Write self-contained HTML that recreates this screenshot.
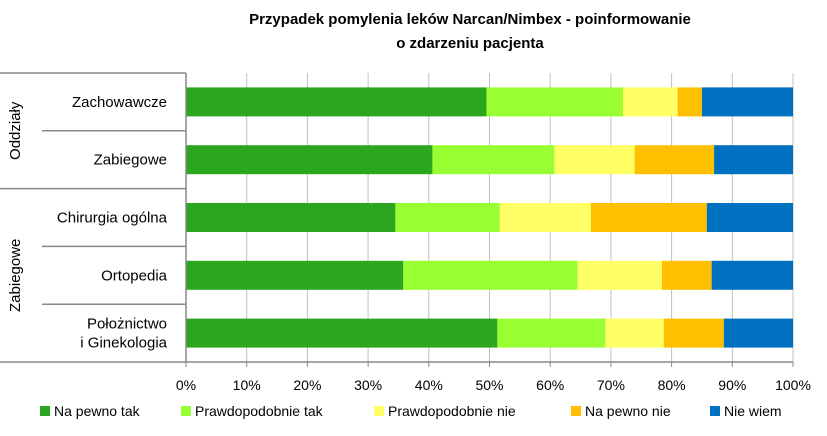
<!DOCTYPE html>
<html><head><meta charset="utf-8"><style>
body{margin:0;background:#fff;font-family:"Liberation Sans",sans-serif;}
svg text{font-family:"Liberation Sans",sans-serif;fill:#000;}
</style></head><body>
<svg width="827" height="431">
<text x="470" y="24" text-anchor="middle" font-size="15" font-weight="bold">Przypadek pomylenia leków  Narcan/Nimbex - poinformowanie</text>
<text x="470" y="48" text-anchor="middle" font-size="15" font-weight="bold">o zdarzeniu pacjenta</text>
<g id="grid"></g><g id="bars"></g><g id="axes"></g><g id="legend"></g>
</svg>
<script>
const categories=["Zachowawcze","Zabiegowe","Chirurgia ogólna","Ortopedia","Położnictwo|i Ginekologia"];
const naPewnoTak=[49.5,40.6,34.5,35.8,51.3];
const prawdTak=[22.5,20.1,17.2,28.7,17.8];
const prawdNie=[9.0,13.2,15.0,13.9,9.6];
const naPewnoNie=[4.0,13.1,19.1,8.2,9.9];
const nieWiem=[15.0,13.0,14.2,13.4,11.4];
const seriesNames=["Na pewno tak","Prawdopodobnie tak","Prawdopodobnie nie","Na pewno nie","Nie wiem"];
const tickLabels=["0%","10%","20%","30%","40%","50%","60%","70%","80%","90%","100%"];
const series=[naPewnoTak,prawdTak,prawdNie,naPewnoNie,nieWiem];
const colors=["#2ca61e","#99ff33","#ffff66","#ffc000","#0070c0"];
const NS="http://www.w3.org/2000/svg";
const x0=186,x1=793,yTop=73,yBottom=362;
const rowH=(yBottom-yTop)/categories.length;
const xs=v=>x0+(x1-x0)*v/100;
function mk(t,a,p){const e=document.createElementNS(NS,t);for(const k in a)e.setAttribute(k,a[k]);p.appendChild(e);return e;}
const grid=document.getElementById('grid'),bars=document.getElementById('bars'),axes=document.getElementById('axes'),leg=document.getElementById('legend');
tickLabels.forEach((t,i)=>{const v=i*10;const x=xs(v);
 const g=mk('line',{x1:x,x2:x,y1:yTop,y2:yBottom,stroke:'#c0c0c0','stroke-width':1},grid);
 
 
 const tk=mk('line',{x1:x,x2:x,y1:yBottom,y2:yBottom+5,stroke:'#888'},axes);
 
 
 const tx=mk('text',{x:x,y:390,'text-anchor':'middle','font-size':14},axes);tx.textContent=t;
 
 
});
categories.forEach((c,i)=>{const yc=yTop+rowH*(i+0.5);let acc=0;
 series.forEach((s,j)=>{const r=mk('rect',{x:xs(acc),y:yc-14.5,width:xs(acc+s[i])-xs(acc),height:29,fill:colors[j]},bars);
  
  
  acc+=s[i];});
 const parts=c.split('|');
 parts.forEach((p,k)=>{const t=mk('text',{x:167,y:yc+5+(k-(parts.length-1)/2)*19,'text-anchor':'end','font-size':15},axes);t.textContent=p;
  
  });
});
const L=(a,b,c,d)=>{const l=mk('line',{x1:a,y1:b,x2:c,y2:d,stroke:'#888','stroke-width':1.5},axes);
 
 };
L(0,yTop,x0,yTop);L(0,yBottom,x1,yBottom);L(x0,yTop,x0,yBottom);L(0,yTop+rowH*2,x0,yTop+rowH*2);
L(42,yTop+rowH,x0,yTop+rowH);L(42,yTop+rowH*3,x0,yTop+rowH*3);L(42,yTop+rowH*4,x0,yTop+rowH*4);
[["Oddziały",yTop+rowH],["Zabiegowe",yTop+rowH*3.5]].forEach(([t,y])=>{const e=mk('text',{x:0,y:0,'text-anchor':'middle','font-size':15,transform:`translate(20,${y}) rotate(-90)`},axes);e.textContent=t;
 
 });
const lx=[40,181,374,571,710];
seriesNames.forEach((n,j)=>{const r=mk('rect',{x:lx[j],y:406,width:10,height:10,fill:colors[j]},leg);
 
 
 const t=mk('text',{x:lx[j]+14,y:416,'font-size':14},leg);t.textContent=n;
 
 });
</script>
</body></html>
